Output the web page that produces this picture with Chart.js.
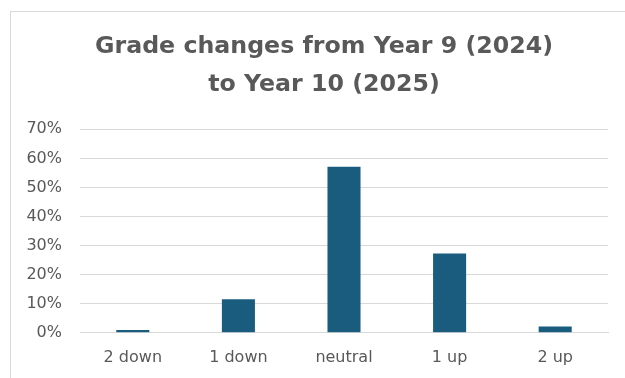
<!DOCTYPE html>
<html>
<head>
<meta charset="utf-8">
<script src="https://cdn.jsdelivr.net/npm/chart.js@4.4.1/dist/chart.umd.min.js"></script>
<style>
  html, body { margin: 0; padding: 0; background: #fff; overflow: hidden; }
  #wrap { position: relative; width: 625px; height: 378px; }
  #frame { position: absolute; left: 10px; top: 11px; width: 660px; height: 420px; border: 1px solid #d9d9d9; }
  #chart { position: absolute; left: 0; top: 0; }
</style>
</head>
<body>
<div id="wrap">
  <div id="frame"></div>
  <canvas id="chart" width="625" height="378"></canvas>
</div>
<script>
const categories = ['2 down', '1 down', 'neutral', '1 up', '2 up'];
const shareOfPupils = [0.9, 11.5, 57.1, 27.3, 2.1]; // percent
const titleLines = ['Grade changes from Year 9 (2024)', 'to Year 10 (2025)'];
const yMax = 70;
const yStep = 10;

const grey = '#595959';
const gridGrey = '#d9d9d9';

// centre the title on the whole frame rather than the canvas width
const titleShift = {
    id: 'titleShift',
    afterLayout(chart) {
        const t = chart.titleBlock;
        t.left = 40;
        t.right = 608;
        t.width = t.right - t.left;
    }
};

const ctx = document.getElementById('chart').getContext('2d');
new Chart(ctx, {
    type: 'bar',
    data: {
        labels: categories,
        datasets: [{
            label: 'Grade change',
            data: shareOfPupils,
            backgroundColor: '#1a5c7e',
            categoryPercentage: 1,
            barPercentage: 0.313
        }]
    },
    options: {
        responsive: false,
        animation: false,
        layout: { padding: { top: 0, right: 17, bottom: 0, left: 0 } },
        plugins: {
            legend: { display: false },
            tooltip: { enabled: false },
            title: {
                display: true,
                text: titleLines,
                color: grey,
                font: { family: 'DejaVu Sans', size: 23.7, weight: 'bold', lineHeight: 1.6 },
                padding: { top: 28, bottom: 25.5 }
            }
        },
        scales: {
            x: {
                grid: { display: false, drawTicks: false },
                border: { color: gridGrey, width: 1 },
                ticks: { color: grey, font: { family: 'DejaVu Sans', size: 16 }, padding: 16 },
                afterFit: axis => { axis.height = 45.3; }
            },
            y: {
                min: 0,
                max: yMax,
                grid: { color: gridGrey, drawTicks: false },
                border: { display: false },
                ticks: {
                    stepSize: yStep,
                    color: grey,
                    font: { family: 'DejaVu Sans', size: 16 },
                    padding: 18,
                    callback: value => value + '%'
                },
                afterFit: axis => { axis.width = 80; }
            }
        }
    },
    plugins: [titleShift]
});
</script>
</body>
</html>
